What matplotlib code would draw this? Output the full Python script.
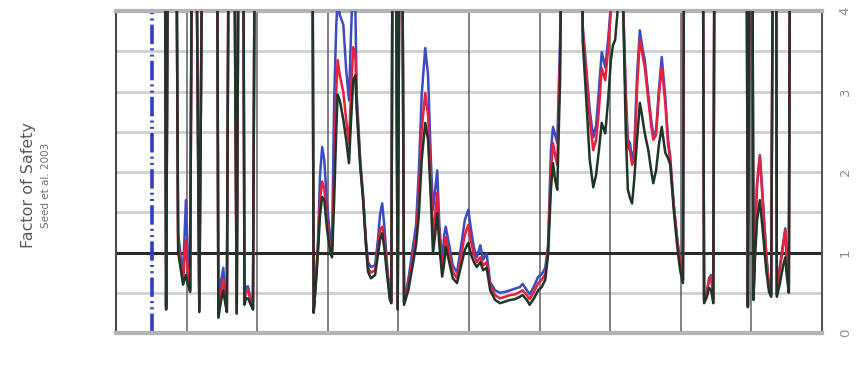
import matplotlib.pyplot as plt

plt.rcParams['lines.scale_dashes'] = False

# depth along the profile (0-100), FS for the three methods
# values of 6.0 mean "off scale" (non-liquefiable layer)
depth = [0.0, 6.9, 7.1, 7.4, 8.5, 8.8, 9.2, 9.5, 9.9, 10.2, 10.5, 10.8, 11.3, 11.8, 12.3,
         14.3, 14.5, 14.9, 15.2, 15.4, 15.7, 16.0, 16.7, 17.1, 17.4, 18.0, 18.2, 18.4, 18.7,
         19.1, 19.4, 19.7,
         27.8, 28.0, 28.3, 28.6, 28.9, 29.2, 29.5, 29.9, 30.3, 30.6, 30.9, 31.2, 31.4, 31.7,
         32.2, 32.6, 33.0, 33.3, 33.6, 33.9, 34.1, 34.6, 35.0, 35.4, 35.7, 36.1, 36.7, 37.1,
         37.4, 37.7, 38.0, 38.4, 38.8, 39.0, 39.2, 39.6, 39.9, 40.2, 40.5, 40.8, 41.4, 42.1,
         42.5, 42.9, 43.3, 43.8, 44.2, 44.6, 44.9, 45.2, 45.5, 45.8, 46.2, 46.5, 46.7, 47.2,
         47.7, 48.3, 48.9, 49.4, 49.9, 50.3, 50.7, 51.1, 51.6, 52.0, 52.5, 53.0, 53.7, 54.4,
         55.1, 55.8, 56.5, 57.2, 57.6, 58.2, 58.6, 59.2, 59.8, 60.3, 60.8, 61.2, 61.6, 61.9,
         62.2, 62.5, 62.9, 63.2,
         66.0, 66.1, 66.7, 67.1, 67.6, 68.0, 68.4, 68.8, 69.3, 69.7, 70.1, 70.4, 70.7, 71.0,
         71.2, 71.5, 71.8, 72.2, 72.5, 72.8, 73.1, 73.4, 73.8, 74.2, 74.6, 74.9, 75.4, 75.8,
         76.1, 76.5, 76.9, 77.3, 77.8, 78.2, 78.5, 79.0, 79.5, 79.9, 80.3, 80.5,
         83.1, 83.3, 83.7, 84.0, 84.3, 84.6, 84.8,
         89.3, 89.5, 89.8, 90.1, 90.3, 90.5, 90.8, 91.2, 91.6, 92.1, 92.5, 92.8, 93.1, 93.5,
         93.6, 94.0, 94.5, 94.8, 95.0, 95.3, 95.5, 100.0]

fs_green = [6, 6, .29, 6, 6, 1.01, .78, .60, .72, .60, .51, 6, 6, .26, 6,
            6, .19, .41, .53, .41, .26, 6, 6, .24, 6, 6, .35, .43, .43,
            .35, .29, 6,
            6, .25, .60, .99, 1.47, 1.69, 1.65, 1.28, 1.03, .94, 1.65, 2.52, 2.96, 2.89,
            2.65, 2.40, 2.11, 2.65, 3.14, 3.20, 2.77, 2.06, 1.65, 1.09, .76, .68, .72, .97,
            1.16, 1.24, 1.06, .72, .41, .37, 6, 6, .29, 6, 6, .35, .53, .88,
            1.09, 1.47, 2.15, 2.61, 2.40, 1.65, .99, 1.22, 1.49, 1.09, .70, .88, 1.07, .88,
            .68, .62, .84, 1.03, 1.12, .97, .88, .82, .88, .78, .81, .53, .41, .37,
            .39, .41, .42, .45, .47, .41, .35, .43, .53, .57, .66, .97, 1.78, 2.11,
            1.90, 1.78, 3.14, 6,
            6, 3.64, 2.77, 2.15, 1.81, 1.96, 2.27, 2.61, 2.48, 2.89, 3.39, 3.58, 3.64, 3.95,
            4.3, 6, 4.2, 2.52, 1.78, 1.68, 1.61, 1.90, 2.40, 2.86, 2.65, 2.48, 2.27, 2.02,
            1.86, 2.02, 2.34, 2.56, 2.24, 2.17, 2.09, 1.53, 1.07, .78, .62, 6,
            6, .37, .45, .56, .53, .37, 6,
            6, .32, 6, 6, .41, .91, 1.40, 1.65, 1.28, .78, .51, .45, 6, 6,
            .45, .60, .84, .94, .72, .50, 6, 6]

fs_red = [6, 6, .31, 6, 6, 1.12, .84, .66, 1.16, .72, .53, 6, 6, .27, 6,
          6, .21, .53, .66, .47, .27, 6, 6, .25, 6, 6, .39, .51, .53,
          .39, .30, 6,
          6, .26, .62, 1.06, 1.65, 1.88, 1.80, 1.38, 1.09, 1.01, 2.02, 3.02, 3.39, 3.20,
          2.99, 2.65, 2.34, 3.02, 3.55, 3.45, 2.83, 2.09, 1.68, 1.12, .81, .75, .78, 1.03,
          1.28, 1.32, 1.16, .78, .43, .39, 6, 6, .30, 6, 6, .37, .60, .97,
          1.19, 1.71, 2.52, 2.98, 2.71, 1.90, 1.16, 1.47, 1.74, 1.22, .78, 1.03, 1.19, .97,
          .76, .68, .97, 1.22, 1.34, 1.13, .97, .88, .94, .84, .88, .60, .47, .43,
          .45, .47, .48, .51, .53, .47, .42, .51, .62, .66, .73, 1.03, 2.02, 2.36,
          2.21, 2.09, 3.39, 6,
          6, 3.76, 3.14, 2.65, 2.27, 2.40, 2.77, 3.29, 3.14, 3.52, 4.01, 4.26, 4.3, 4.3,
          4.3, 6, 4.2, 2.89, 2.31, 2.27, 2.09, 2.15, 3.02, 3.64, 3.45, 3.30, 2.89, 2.58,
          2.40, 2.46, 2.96, 3.30, 2.86, 2.34, 2.15, 1.59, 1.16, .88, .66, 6,
          6, .40, .50, .66, .70, .41, 6,
          6, .34, 6, 6, .43, 1.16, 1.84, 2.19, 1.65, .97, .56, .47, 6, 6,
          .47, .78, 1.09, 1.28, .91, .53, 6, 6]

fs_blue = [6, 6, .34, 6, 6, 1.24, .93, .72, 1.65, .91, .56, 6, 6, .29, 6,
           6, .22, .66, .81, .53, .29, 6, 6, .26, 6, 6, .41, .57, .58,
           .41, .31, 6,
           6, .27, .66, 1.12, 1.96, 2.31, 2.15, 1.59, 1.22, 1.08, 2.89, 3.83, 4.14, 3.95,
           3.83, 3.27, 2.89, 3.76, 4.39, 4.07, 2.96, 2.15, 1.71, 1.16, .88, .82, .84, 1.16,
           1.47, 1.61, 1.34, .84, .46, .40, 6, 6, .31, 6, 6, .40, .66, 1.09,
           1.34, 2.02, 2.96, 3.54, 3.20, 2.15, 1.53, 1.78, 2.02, 1.34, .88, 1.22, 1.32, 1.09,
           .84, .75, 1.09, 1.40, 1.53, 1.28, 1.06, .94, 1.09, .91, .99, .63, .53, .50,
           .51, .53, .55, .57, .61, .53, .48, .58, .70, .73, .81, 1.09, 2.27, 2.56,
           2.46, 2.36, 3.64, 6,
           6, 3.83, 3.20, 2.77, 2.43, 2.58, 3.02, 3.49, 3.30, 3.64, 4.07, 4.26, 4.3, 4.3,
           4.3, 6, 4.2, 3.02, 2.40, 2.36, 2.15, 2.27, 3.20, 3.76, 3.52, 3.39, 2.96, 2.65,
           2.46, 2.52, 3.02, 3.43, 2.93, 2.40, 2.19, 1.59, 1.16, .88, .66, 6,
           6, .41, .52, .68, .72, .42, 6,
           6, .35, 6, 6, .45, 1.18, 1.86, 2.21, 1.68, .99, .57, .47, 6, 6,
           .48, .81, 1.12, 1.30, .93, .53, 6, 6]

fig = plt.figure(figsize=(8.61, 3.71), dpi=100)
ax = fig.add_axes([116 / 861, 38 / 371, 706 / 861, 322 / 371])
ax.set_xlim(0, 100)
ax.set_ylim(0, 4)

# grid
for yy in [0.5, 1.5, 2, 2.5, 3, 3.5]:
    ax.axhline(yy, color='#d0d0d0', lw=2, zorder=1)
for xx in range(10, 100, 10):
    ax.axvline(xx, color='#5c5c6c', lw=1.1, zorder=1)
ax.axhline(1, color='#2a2a2a', lw=2.2, zorder=2)

# reference depth line
ax.axvline(5.1, color='#2f3fc4', lw=2.6, dashes=(14, 3, 1.5, 3, 1.5, 3), zorder=2)

ax.plot(depth, fs_blue, color='#3a4cc0', lw=1.8, zorder=3)
ax.plot(depth, fs_red, color='#e8203c', lw=1.8, zorder=4)
ax.plot(depth, fs_green, color='#1f3527', lw=1.8, zorder=5)

for s in ['top', 'bottom']:
    ax.spines[s].set_color('#b4b4b4')
    ax.spines[s].set_linewidth(3)
ax.spines['left'].set_color('#4a4a4a')
ax.spines['left'].set_linewidth(1.5)
ax.spines['right'].set_color('#555555')
ax.spines['right'].set_linewidth(1.5)

ax.set_xticks([])
ax.yaxis.tick_right()
ax.set_yticks([0, 1, 2, 3, 4])
ax.tick_params(axis='y', length=0, pad=12, labelsize=9.5, labelcolor='#8a8a8a',
               labelrotation=90)
for lab in ax.get_yticklabels():
    lab.set_verticalalignment('center')

fig.text(28 / 861, 0.5, 'Factor of Safety', rotation=90, fontsize=11.5,
         color='#5a5a5a', ha='center', va='center')
fig.text(46 / 861, 0.5, 'Seed et al. 2003', rotation=90, fontsize=7.5,
         color='#707070', ha='center', va='center')

plt.savefig('out.png', dpi=100)
